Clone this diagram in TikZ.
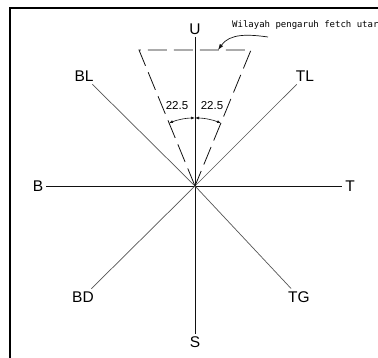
\documentclass[tikz,border=0pt]{standalone}
\usepackage{fontspec}
\setmainfont{Liberation Sans}
\newfontfamily\notefont{DejaVu Sans Mono}
\usetikzlibrary{arrows.meta, calc}
\definecolor{axisline}{HTML}{111111}
\definecolor{diagline}{HTML}{555555}
\tikzset{
  dirlabel/.style={inner sep=1pt, outer sep=2pt, font=\fontsize{15.5}{17}\selectfont},
  axis/.style={draw=axisline, line width=0.8pt},
  diag/.style={draw=diagline, line width=0.7pt},
  sector/.style={draw=axisline, line width=0.8pt, dash pattern=on 19pt off 7pt},
  dimarc/.style={{Latex[length=4pt,width=3pt]}-{Latex[length=4pt,width=3pt]}, line width=0.6pt, draw=axisline},
  anglabel/.style={font=\fontsize{11.5}{13}\selectfont, inner sep=1pt},
  notetext/.style={font=\notefont\fontsize{9}{11}\selectfont, inner sep=0pt, anchor=west},
  pointer/.style={-{Latex[length=6pt,width=4pt]}, line width=0.7pt, draw=axisline},
}

\begin{document}
\begin{tikzpicture}[x=1pt, y=1pt]
\useasboundingbox (0,0) rectangle (378,358);

% Frame (right and bottom edges fall outside)
\draw[line width=1.6pt] (10,-2) -- (10,350) -- (380,350);

% Centre and direction labels
\coordinate (c) at (195,172);
\node[dirlabel] (U)  at (195,329) {U};
\node[dirlabel] (S)  at (195,16)  {S};
\node[dirlabel] (B)  at (38,172)  {B};
\node[dirlabel] (T)  at (350,172) {T};
\node[dirlabel] (BL) at (84,282)  {BL};
\node[dirlabel] (TL) at (305,282) {TL};
\node[dirlabel] (BD) at (83,61)   {BD};
\node[dirlabel] (TG) at (299,61)  {TG};

% Axes
\draw[axis] (U) -- (S);
\draw[axis] (B) -- (T);
\draw[diag] (c) -- (BL);
\draw[diag] (c) -- (TL);
\draw[diag] (c) -- (BD);
\draw[diag] (c) -- (TG);

% Fetch sector, 22.5 degrees either side of north
\coordinate (sl) at (139,308);
\coordinate (sr) at (251,308);
\draw[sector] (c) -- (sl) -- (sr) -- cycle;

% Angle dimensions
\draw[dimarc] ($(c)+(112.5:68)$) arc[start angle=112.5, end angle=90, radius=68];
\draw[dimarc] ($(c)+(90:68)$) arc[start angle=90, end angle=67.5, radius=68];
\node[anglabel] (aleft)  at (177,252) {22.5};
\node[anglabel] (aright) at (212,252) {22.5};

% Note
\node[notetext] (note) at (232,333) {Wilayah pengaruh fetch utar};
\coordinate (nstart) at (268,321);
\coordinate (ntip) at (218,308);
\draw[pointer] (nstart) to[out=172, in=55] (ntip);

\end{tikzpicture}
\end{document}
